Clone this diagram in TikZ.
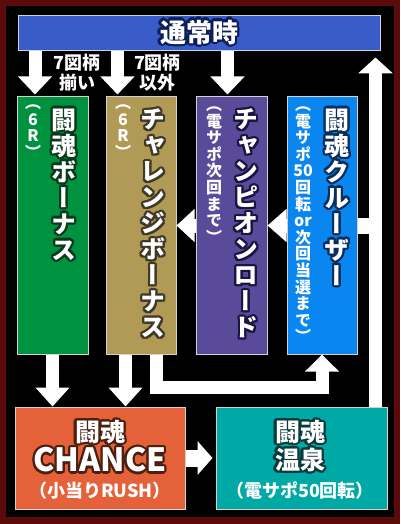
\documentclass[tikz,border=0pt]{standalone}
\usepackage{fontspec}
\usepackage{contour}
\usetikzlibrary{arrows.meta}
\setmainfont{Noto Sans CJK JP}
\newfontfamily\tatefont[RawFeature=+vert]{Noto Sans CJK JP}

\definecolor{framered}{HTML}{5C0A0A}
\definecolor{boxedge}{HTML}{D2D2D2}
\definecolor{topblue}{HTML}{3A5CC8}
\definecolor{bgreen}{HTML}{00923F}
\definecolor{bgold}{HTML}{B09A55}
\definecolor{bpurple}{HTML}{5A4A9A}
\definecolor{bblue}{HTML}{0A86F0}
\definecolor{borange}{HTML}{E5613A}
\definecolor{bteal}{HTML}{00A8A6}
\definecolor{topline}{HTML}{0B1E5A}
\definecolor{greenline}{HTML}{0A3A1C}
\definecolor{goldline}{HTML}{3F3A28}
\definecolor{purpleline}{HTML}{1A1540}
\definecolor{blueline}{HTML}{0A2E5C}
\definecolor{orangeline}{HTML}{4A2010}
\definecolor{tealline}{HTML}{0A3A3A}

\contournumber{16}
\contourlength{2.2pt}

% vertical text, one character (or braced group) per line
\makeatletter
\newcommand\tatemoji[3]{%
  \vbox{\baselineskip=#1\lineskiplimit=-\maxdimen
    \@tfor\tch:=#3\do{\hbox to #1{\hss\contour{#2}{\tch}\hss}}}}
\newcommand\tatesub[2]{%
  \vbox{\baselineskip=#1\lineskiplimit=-\maxdimen
    \@tfor\tch:=#2\do{\hbox to #1{\hss\tch\hss}}}}
\makeatother

\tikzset{
  stage/.style={draw=boxedge, line width=1pt, inner sep=0, fill=#1},
  tatemain/.style={anchor=north, inner sep=0, text=white,
    font=\tatefont\bfseries\fontsize{25}{26}\selectfont},
  tatenote/.style={anchor=north, inner sep=0, text=white,
    font=\tatefont\bfseries\fontsize{16}{17}\selectfont},
  yokomain/.style={inner sep=0, text=white,
    font=\bfseries\fontsize{25}{28}\selectfont},
  yokonote/.style={inner sep=0, text=white,
    font=\bfseries\fontsize{18}{20}\selectfont},
  lbl/.style={align=center, inner sep=0, text=white,
    font=\bfseries\fontsize{18}{20}\selectfont},
  bigarrow/.style={draw=white, line width=13pt, miter limit=10,
    -{Triangle[width=33pt,length=18pt]}}
}

\begin{document}
\begin{tikzpicture}[x=1pt, y=-1pt]
  % frame
  \fill[framered] (0,0) rectangle (400,524);
  \fill[black] (6,6) rectangle (394,517);
  \useasboundingbox (0,0) rectangle (400,524);

  % stages
  \node[stage=topblue, minimum width=362pt, minimum height=35pt] (top) at (199,33.5) {};
  \node[stage=bgreen, minimum width=71pt, minimum height=257pt] (bonus) at (52.5,225.5) {};
  \node[stage=bgold, minimum width=70pt, minimum height=257pt] (chal) at (141,225.5) {};
  \node[stage=bpurple, minimum width=71pt, minimum height=257pt] (champ) at (231.5,225.5) {};
  \node[stage=bblue, minimum width=70pt, minimum height=257pt] (cruiser) at (322,225.5) {};
  \node[stage=borange, minimum width=170pt, minimum height=102pt] (chance) at (100,458) {};
  \node[stage=bteal, minimum width=171pt, minimum height=102pt] (onsen) at (301.5,458) {};

  % texts
  \node[yokomain, font=\bfseries\fontsize{26}{28}\selectfont] (toptxt) at (top.center)
    {\contourlength{2.5pt}\contour{topline}{通常時}};

  \node[tatemain] (bonustxt) at ([xshift=11.5pt,yshift=-12pt]bonus.north)
    {\tatemoji{26pt}{greenline}{闘魂ボーナス}};
  \node[tatenote] (bonusnote) at ([xshift=-19.5pt,yshift=-8pt]bonus.north)
    {\tatesub{16.6pt}{（6R）}};

  \node[tatemain] (chaltxt) at ([xshift=12pt,yshift=-12pt]chal.north)
    {\tatemoji{26pt}{goldline}{チャレンジボーナス}};
  \node[tatenote] (chalnote) at ([xshift=-18pt,yshift=-8pt]chal.north)
    {\tatesub{16.6pt}{（6R）}};

  \node[tatemain] (champtxt) at ([xshift=14.5pt,yshift=-12pt]champ.north)
    {\tatemoji{26pt}{purpleline}{チャンピオンロード}};
  \node[tatenote] (champnote) at ([xshift=-17.5pt,yshift=-10pt]champ.north)
    {\tatesub{16.6pt}{（電サポ次回まで）}};

  \node[tatemain] (cruisertxt) at ([xshift=15pt,yshift=-12pt]cruiser.north)
    {\tatemoji{26pt}{blueline}{闘魂クルーザー}};
  \node[tatenote] (cruisernote) at ([xshift=-19pt,yshift=-10pt]cruiser.north)
    {\tatesub{16.6pt}{（電サポ{50}回転{or}次回当選まで）}};

  \node[yokomain] (chancetxt) at ([yshift=25pt]chance.center)
    {\contour{orangeline}{闘魂}};
  \node[yokomain, font=\bfseries\fontsize{32}{34}\selectfont] (chancename) at ([yshift=-3pt]chance.center)
    {\contour{orangeline}{CHANCE}};
  \node[yokonote] (chancenote) at ([yshift=-33pt]chance.center) {（小当りRUSH）};

  \node[yokomain] (onsentxt) at ([xshift=-1.5pt,yshift=25pt]onsen.center)
    {\contour{tealline}{闘魂}};
  \node[yokomain] (onsenname) at ([xshift=-1.5pt,yshift=-3pt]onsen.center)
    {\contour{tealline}{温泉}};
  \node[yokonote] (onsennote) at ([xshift=-1.5pt,yshift=-33pt]onsen.center) {（電サポ50回転）};

  \node[lbl] (soroi) at (77,72.5) {7図柄\\揃い};
  \node[lbl] (igai) at (157.5,72.5) {7図柄\\以外};

  % connectors
  \coordinate (bonusin) at ([xshift=-17.5pt]bonus.north);
  \coordinate (chalin) at ([xshift=-23.5pt]chal.north);
  \coordinate (champin) at ([xshift=-4pt]champ.north);
  \coordinate (chalout) at ([xshift=-15.5pt]chal.south);
  \coordinate (chalturn) at ([xshift=15.5pt]chal.south);
  \coordinate (upline) at ([xshift=74pt]onsen.north);

  \draw[bigarrow, shorten >=2pt] (bonusin |- top.south) -- (bonusin);
  \draw[bigarrow, shorten >=2pt] (chalin |- top.south) -- (chalin);
  \draw[bigarrow, shorten >=2pt] (champin |- top.south) -- (champin);

  \draw[bigarrow, line width=14pt, -{Triangle[width=32pt,length=19pt]}] (cruiser.west) -- (champ.east);
  \draw[bigarrow, line width=14pt, -{Triangle[width=32pt,length=18pt]}] (champ.west) -- (chal.east);

  \draw[bigarrow, -{Triangle[width=33pt,length=19pt]}] (bonus.south) -- (chance.north -| bonus.south);
  \draw[bigarrow, -{Triangle[width=33pt,length=19pt]}] (chalout) -- (chance.north -| chalout);
  \draw[bigarrow, -{Triangle[width=33pt,length=17pt]}] (chalturn) -- ++(0,32.5) -| (cruiser.south);

  \draw[bigarrow, line width=17pt, shorten >=3pt, -{Triangle[width=33pt,length=15pt]}] (chance.east) -- (onsen.west);

  \draw[white, line width=16pt] (cruiser.east) -- (cruiser.east -| upline);
  \draw[bigarrow, shorten >=6pt, -{Triangle[width=34pt,length=16pt]}] (upline) -- (upline |- top.south);
\end{tikzpicture}
\end{document}
